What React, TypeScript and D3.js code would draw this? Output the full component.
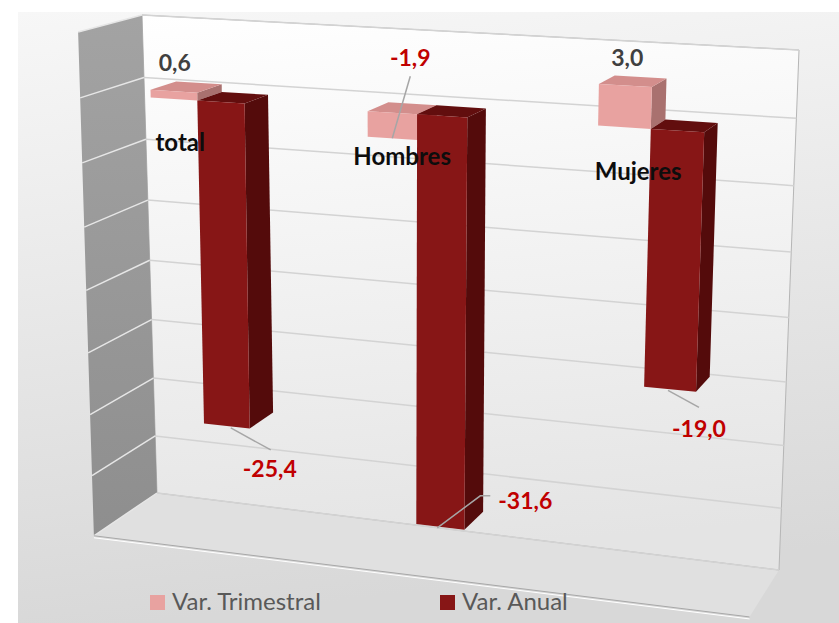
import * as d3 from "d3";

// --- data -------------------------------------------------------------
const categories = ["total", "Hombres", "Mujeres"];
const seriesNames = ["Var. Trimestral", "Var. Anual"];
const trimestral = [0.6, -1.9, 3.0];
const anual = [-25.4, -31.6, -19.0];
const valueTicks = [-35, -30, -25, -20, -15, -10, -5, 0, 5];

const seriesColors = [
  { front: "#E8A2A0", top: "#D38E8C", side: "#A9716F" },
  { front: "#871616", top: "#620E0E", side: "#540B0B" },
];

// label placement relative to the bar end (front, centre), in px
const labelOffsets = [
  [
    { dx: 1, dy: -20, anchor: "middle", leader: null },
    { dx: 18, dy: -72, anchor: "middle", leader: [[0, 0], [18, -62]] },
    { dx: 2, dy: -19, anchor: "middle", leader: null },
  ],
  [
    { dx: 43, dy: 51, anchor: "middle", leader: [[4, 2], [44, 24]] },
    { dx: 58, dy: -18, anchor: "start", leader: [[-3, 1], [40, -31], [50, -31]] },
    { dx: 29, dy: 48, anchor: "middle", leader: [[-2, 1], [29, 18]] },
  ],
];

// --- projection ---------------------------------------------------------
const W = 839;
const H = 623;
const wall = { tl: [142, 15], tr: [799, 50], br: [779, 570], bl: [157, 493] };
const vanish = [1325, -299];
const depthGain = 0.054;

function squareToQuad(q: typeof wall) {
  const [x0, y0] = q.tl;
  const [x1, y1] = q.tr;
  const [x2, y2] = q.br;
  const [x3, y3] = q.bl;
  const dx1 = x1 - x2, dx2 = x3 - x2, dx3 = x0 - x1 + x2 - x3;
  const dy1 = y1 - y2, dy2 = y3 - y2, dy3 = y0 - y1 + y2 - y3;
  const den = dx1 * dy2 - dx2 * dy1;
  const g = (dx3 * dy2 - dx2 * dy3) / den;
  const h = (dx1 * dy3 - dx3 * dy1) / den;
  const a = x1 - x0 + g * x1, b = x3 - x0 + h * x3;
  const d = y1 - y0 + g * y1, e = y3 - y0 + h * y3;
  return (u: number, v: number) => {
    const z = g * u + h * v + 1;
    return [(a * u + b * v + x0) / z, (d * u + e * v + y0) / z];
  };
}

const backWall = squareToQuad(wall);

// u: 0..1 across, v: 0..1 top->bottom, w: 0 back .. 1 front
function project(u: number, v: number, w: number): [number, number] {
  const [bx, by] = backWall(u, v);
  const s = 1 + depthGain * w;
  return [vanish[0] + (bx - vanish[0]) * s, vanish[1] + (by - vanish[1]) * s];
}

const vScale = d3.scaleLinear().domain([5, -35]).range([0, 1]);
const uScale = d3
  .scaleBand<string>()
  .domain(categories)
  .range([0, 1])
  .paddingInner(0.56)
  .paddingOuter(0.28);
const sScale = d3
  .scaleBand<string>()
  .domain(seriesNames)
  .range([0, uScale.bandwidth()]);
const depthScale = d3.scaleLinear().domain([0, 1]).range([0.39, 0.81]);

const poly = (pts: [number, number][]) =>
  "M" + pts.map((p) => `${p[0].toFixed(1)},${p[1].toFixed(1)}`).join("L") + "Z";

// spanish decimals, plain hyphen for the sign
const fmt = (n: number) =>
  d3.format(".1f")(n).replace(".", ",").replace("\u2212", "-");

const font = "Lato, 'Open Sans', sans-serif";

export default function App() {
  const values = [trimestral, anual];
  const wb = depthScale(0);
  const wf = depthScale(1);

  const bars = categories.flatMap((cat, ci) =>
    seriesNames.map((name, si) => {
      const val = values[si][ci];
      const u0 = (uScale(cat) ?? 0) + (sScale(name) ?? 0);
      const u1 = u0 + sScale.bandwidth();
      const vt = vScale(Math.max(0, val));
      const vb = vScale(Math.min(0, val));
      const front = poly([project(u0, vt, wf), project(u1, vt, wf), project(u1, vb, wf), project(u0, vb, wf)]);
      const top = poly([project(u0, vt, wf), project(u1, vt, wf), project(u1, vt, wb), project(u0, vt, wb)]);
      const side = poly([project(u1, vt, wf), project(u1, vt, wb), project(u1, vb, wb), project(u1, vb, wf)]);
      const end = project((u0 + u1) / 2, vScale(val), wf);
      return { key: `${cat}-${name}`, ci, si, val, front, top, side, end };
    })
  );

  const wallPath = poly([project(0, 0, 0), project(1, 0, 0), project(1, 1, 0), project(0, 1, 0)]);
  const sidePath = poly([project(0, 0, 0), project(0, 0, 1), project(0, 1, 1), project(0, 1, 0)]);
  const floorPath = poly([project(0, 1, 0), project(1, 1, 0), project(1, 1, 1), project(0, 1, 1)]);

  const [f0, f1] = [project(0, 1, 1), project(1, 1, 1)];

  return (
    <svg
      width={W}
      height={H}
      style={{ position: "absolute", left: 0, top: 0, display: "block" }}
      fontFamily={font}
    >
      <defs>
        <linearGradient id="bg" x1="0" x2="0.15" y1="0" y2="1">
          <stop offset="0%" stopColor="#f7f7f7" />
          <stop offset="100%" stopColor="#d8d8d8" />
        </linearGradient>
        <linearGradient id="wall" x1="0" x2="0.1" y1="0" y2="1">
          <stop offset="0%" stopColor="#ffffff" />
          <stop offset="100%" stopColor="#e4e4e4" />
        </linearGradient>
        <linearGradient id="side" x1="0" x2="0" y1="0" y2="1">
          <stop offset="0%" stopColor="#a3a3a3" />
          <stop offset="100%" stopColor="#8e8e8e" />
        </linearGradient>
      </defs>
      <rect width={W} height={H} fill="#ffffff" />
      <rect x={18} y={12} width={W - 18} height={H - 12} fill="url(#bg)" />

      {/* walls and floor */}
      <path d={floorPath} fill="#e0e0e0" />
      <path d={wallPath} fill="url(#wall)" stroke="#b5b5b5" strokeWidth={1} />
      <path d={sidePath} fill="url(#side)" />
      {valueTicks.map((t) => {
        const a = project(0, vScale(t), 0);
        const b = project(1, vScale(t), 0);
        const c = project(0, vScale(t), 1);
        return (
          <g key={t}>
            <line x1={a[0]} y1={a[1]} x2={b[0]} y2={b[1]} stroke="#d3d3d3" strokeWidth={1.5} />
            <line x1={a[0]} y1={a[1]} x2={c[0]} y2={c[1]} stroke="#e6e6e6" strokeWidth={1.5} />
          </g>
        );
      })}
      <line x1={f0[0]} y1={f0[1]} x2={f1[0]} y2={f1[1]} stroke="#a8a8a8" strokeWidth={1} />
      <line x1={f0[0]} y1={f0[1] + 2} x2={f1[0]} y2={f1[1] + 2} stroke="#ffffff" strokeWidth={1} />

      {/* bars */}
      {bars.map((b) => (
        <g key={b.key}>
          <path d={b.side} fill={seriesColors[b.si].side} />
          <path d={b.top} fill={seriesColors[b.si].top} />
          <path d={b.front} fill={seriesColors[b.si].front} />
        </g>
      ))}

      {/* category labels */}
      {categories.map((cat) => {
        const p = project((uScale(cat) ?? 0) + uScale.bandwidth() / 2, vScale(0), 1);
        return (
          <text key={cat} x={p[0] - 6} y={p[1] + 47} textAnchor="middle" fontSize={24} fontWeight={700} fill="#0d0d0d">
            {cat}
          </text>
        );
      })}

      {/* data labels */}
      {bars.map((b) => {
        const o = labelOffsets[b.si][b.ci];
        const [x, y] = b.end;
        return (
          <g key={`lbl-${b.key}`}>
            {o.leader ? (
              <polyline
                points={o.leader.map((p) => `${x + p[0]},${y + p[1]}`).join(" ")}
                fill="none"
                stroke="#a6a6a6"
                strokeWidth={1.5}
              />
            ) : null}
            <text
              x={x + o.dx}
              y={y + o.dy}
              textAnchor={o.anchor}
              fontSize={23}
              fontWeight={700}
              fill={b.val < 0 ? "#C00000" : "#404040"}
            >
              {fmt(b.val)}
            </text>
          </g>
        );
      })}

      {/* legend */}
      {seriesNames.map((name, i) => (
        <g key={name} transform={`translate(${150 + i * 290},595)`}>
          <rect width={15} height={15} fill={seriesColors[i].front} />
          <text x={22} y={15} fontSize={24} fill="#595959">
            {name}
          </text>
        </g>
      ))}
    </svg>
  );
}
